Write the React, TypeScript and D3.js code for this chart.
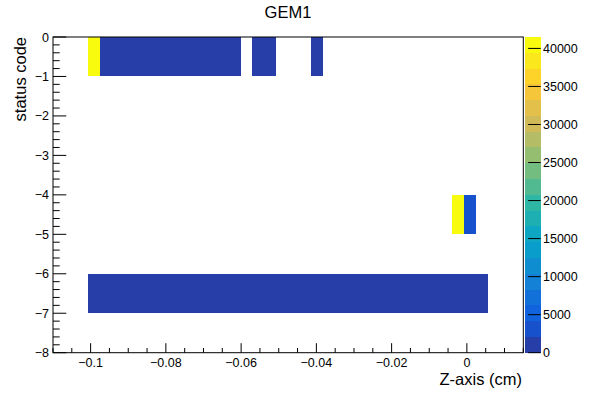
import React from "react";
import * as d3 from "d3";

// Histogram binning
const xMin = -0.11;
const xMax = 0.015;
const xBinCount = 40;
const yMin = -8;
const yMax = 0;

// Each row: lower edge of status code bin, first x bin index, bin contents
const rowLowEdges = [-1, -5, -7];
const rowFirstBins = [3, 34, 3];
const rowCounts: number[][] = [
  [41500, 980, 870, 910, 760, 820, 690, 740, 880, 710, 650, 790, 930, 0, 820, 760, 0, 0, 0, 540],
  [40800, 3100],
  [
    1210, 1130, 1080, 1150, 1190, 1020, 1090, 1120, 1170, 1060, 1110, 1040,
    1140, 1080, 1190, 1010, 1070, 1130, 1160, 1050, 1100, 1180, 1030, 1090,
    1140, 1120, 1060, 1170, 1080, 1130, 1110, 1150, 1070, 1020,
  ],
];

const zMax = 41500;
const nContours = 20;
const xTickValues = [-0.1, -0.08, -0.06, -0.04, -0.02, 0];
const yTickValues = [0, -1, -2, -3, -4, -5, -6, -7, -8];
const zTickValues = [0, 5000, 10000, 15000, 20000, 25000, 30000, 35000, 40000];

const title = "GEM1";
const xTitle = "Z-axis (cm)";
const yTitle = "status code";

// kBird palette stops
const birdStops = [0, 0.125, 0.25, 0.375, 0.5, 0.625, 0.75, 0.875, 1];
const birdR = [0.2082, 0.0592, 0.078, 0.0232, 0.1802, 0.5301, 0.8186, 0.9956, 0.9764];
const birdG = [0.1664, 0.3599, 0.5041, 0.6419, 0.7178, 0.7492, 0.7328, 0.7862, 0.9832];
const birdB = [0.5293, 0.8684, 0.8385, 0.7914, 0.6425, 0.4662, 0.3499, 0.1968, 0.0539];

const FONT = "'Liberation Sans', Arial, Helvetica, sans-serif";
const W = 592;
const H = 399;

const frame = { left: 53, right: 523.3, top: 37, bottom: 352.7 };
const bar = { left: 525, right: 540.7 };

const birdScale = (ch: number[]) =>
  d3.scaleLinear<number>().domain(birdStops).range(ch).clamp(true);
const rS = birdScale(birdR);
const gS = birdScale(birdG);
const bS = birdScale(birdB);

function paletteColor(p: number) {
  return d3.rgb(rS(p) * 255, gS(p) * 255, bS(p) * 255).formatHex();
}

function contourColor(band: number) {
  const idx = Math.floor(((band + 0.99) * 255) / nContours);
  return paletteColor(Math.min(idx, 254) / 254);
}

function bandOf(v: number) {
  return Math.max(0, Math.min(nContours - 1, Math.floor((v / zMax) * nContours)));
}

const fmt = (v: number) => {
  const s = d3.format("")(+v.toFixed(6));
  return s.replace("-", "\u2212");
};

export default function App() {
  const x = d3.scaleLinear().domain([xMin, xMax]).range([frame.left, frame.right]);
  const y = d3.scaleLinear().domain([yMin, yMax]).range([frame.bottom, frame.top]);
  const z = d3.scaleLinear().domain([0, zMax]).range([frame.bottom, frame.top]);
  const binW = (xMax - xMin) / xBinCount;

  const cells: { x0: number; x1: number; y0: number; y1: number; v: number }[] = [];
  rowCounts.forEach((counts, r) => {
    counts.forEach((v, i) => {
      if (v <= 0) return;
      const b = rowFirstBins[r] + i;
      const lo = xMin + b * binW;
      cells.push({ x0: lo, x1: lo + binW, y0: rowLowEdges[r], y1: rowLowEdges[r] + 1, v });
    });
  });

  // minor ticks
  const xMinor = d3.range(-0.11, 0.0151, 0.005).filter(
    (v) => !xTickValues.some((t) => Math.abs(t - v) < 1e-9)
  );
  const yMinor = d3.range(-8, 0.001, 0.2).filter(
    (v) => Math.abs(v - Math.round(v)) > 1e-6
  );

  const bands = d3.range(nContours);

  return (
    <svg
      width={W}
      height={H}
      style={{ position: "absolute", left: 0, top: 0, background: "#fff" }}
      fontFamily={FONT}
    >
      <rect x={0} y={0} width={W} height={H} fill="#fff" />
      <g shapeRendering="crispEdges">
        {cells.map((c, i) => {
          const x0 = Math.round(x(c.x0) - 0.5);
          const x1 = Math.round(x(c.x1) - 0.5);
          return (
            <rect
              key={i}
              x={x0}
              y={y(c.y1)}
              width={x1 - x0}
              height={y(c.y0) - y(c.y1)}
              fill={contourColor(bandOf(c.v))}
            />
          );
        })}
      </g>
      {/* frame */}
      <rect
        x={frame.left}
        y={frame.top}
        width={frame.right - frame.left}
        height={frame.bottom - frame.top}
        fill="none"
        stroke="#000"
        strokeWidth={1}
      />
      {/* x axis ticks */}
      {xTickValues.map((t) => (
        <g key={"xt" + t}>
          <line x1={x(t)} x2={x(t)} y1={frame.bottom} y2={frame.bottom - 9.5} stroke="#000" />
          <text x={x(t)} y={367} fontSize={12.5} textAnchor="middle">
            {fmt(t)}
          </text>
        </g>
      ))}
      {xMinor.map((t, i) => (
        <line key={"xm" + i} x1={x(t)} x2={x(t)} y1={frame.bottom} y2={frame.bottom - 4.7} stroke="#000" />
      ))}
      {/* y axis ticks */}
      {yTickValues.map((t) => (
        <g key={"yt" + t}>
          <line x1={frame.left} x2={frame.left + 13.3} y1={y(t)} y2={y(t)} stroke="#000" />
          <text x={49} y={y(t) + 4.5} fontSize={12.5} textAnchor="end">
            {fmt(t)}
          </text>
        </g>
      ))}
      {yMinor.map((t, i) => (
        <line key={"ym" + i} x1={frame.left} x2={frame.left + 6.7} y1={y(t)} y2={y(t)} stroke="#000" />
      ))}
      {/* colour bar */}
      <g shapeRendering="crispEdges">
        {bands.map((b) => {
          const v0 = (b * zMax) / nContours;
          const v1 = ((b + 1) * zMax) / nContours;
          const top = Math.round(z(v1));
          const bottom = Math.round(z(v0));
          return (
            <rect
              key={"band" + b}
              x={bar.left}
              y={top}
              width={bar.right - bar.left}
              height={bottom - top}
              fill={contourColor(b)}
            />
          );
        })}
      </g>
      {zTickValues.map((t) => (
        <g key={"zt" + t}>
          <line x1={bar.right - 12.5} x2={bar.right} y1={z(t)} y2={z(t)} stroke="#000" />
          <text x={543} y={z(t) + 4.5} fontSize={12.5}>
            {t}
          </text>
        </g>
      ))}
      {/* titles */}
      <text x={288} y={17.5} fontSize={16.5} textAnchor="middle">
        {title}
      </text>
      <text x={522} y={385} fontSize={16.5} textAnchor="end">
        {xTitle}
      </text>
      <text
        transform={`translate(26, ${frame.top}) rotate(-90)`}
        fontSize={16.5}
        textAnchor="end"
      >
        {yTitle}
      </text>
    </svg>
  );
}
